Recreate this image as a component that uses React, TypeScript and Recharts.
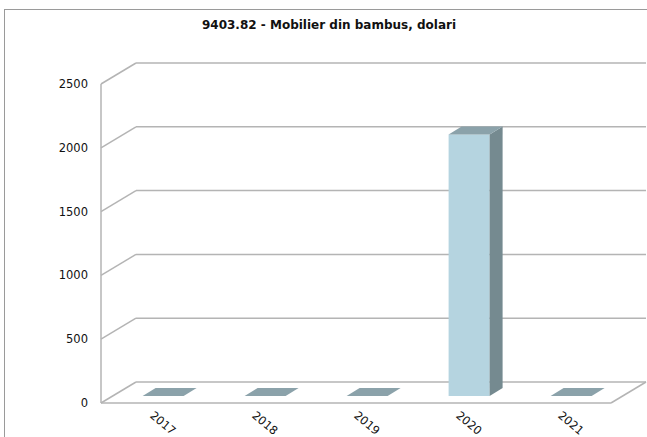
import {BarChart, Bar, XAxis, YAxis, CartesianGrid} from "recharts";

const YEARS = ["2017", "2018", "2019", "2020", "2021"]
const VALUES = [0, 0, 0, 2050, 0]
const Y_TICKS = [0, 500, 1000, 1500, 2000, 2500]

const data = YEARS.map((year, i) => ({year, value: VALUES[i]}))

// depth of the 3d box (back wall offset) and of the bars
const DEPTH_X = 35
const DEPTH_Y = -21
const BAR_SHIFT_X = 11
const BAR_SHIFT_Y = -7
const BAR_DX = 13
const BAR_DY = -8

const GRID = "#b4b4b4"
const FONT = "'DejaVu Sans', Verdana, sans-serif"

const GridLine = (p: any) => {
    const {x1, y1, x2, y, height} = p
    const isFloor = Math.abs(y1 - (y + height)) < 1
    return (
        <g key={p.key}>
            <line x1={x1} y1={y1} x2={x1 + DEPTH_X} y2={y1 + DEPTH_Y} stroke={GRID} strokeWidth={1.5}/>
            <line x1={x1 + DEPTH_X} y1={y1 + DEPTH_Y} x2={x2 + DEPTH_X} y2={y1 + DEPTH_Y} stroke={GRID} strokeWidth={1.5}/>
            {isFloor && (
                <line x1={x2} y1={y1} x2={x2 + DEPTH_X} y2={y1 + DEPTH_Y} stroke={GRID} strokeWidth={1.5}/>
            )}
        </g>
    )
}

const Bar3D = (p: any) => {
    const x = p.x + BAR_SHIFT_X
    const y = p.y + BAR_SHIFT_Y
    const w = p.width
    const h = p.height
    const top = `${x},${y} ${x + BAR_DX},${y + BAR_DY} ${x + w + BAR_DX},${y + BAR_DY} ${x + w},${y}`
    const side = `${x + w},${y} ${x + w + BAR_DX},${y + BAR_DY} ${x + w + BAR_DX},${y + h + BAR_DY} ${x + w},${y + h}`
    return (
        <g>
            {h > 0 && <rect x={x} y={y} width={w} height={h} fill="#b5d4e0"/>}
            {h > 0 && <polygon points={side} fill="#758a90"/>}
            <polygon points={top} fill="#8ba2aa"/>
        </g>
    )
}

const YearTick = (p: any) => {
    const cx = p.x + BAR_SHIFT_X
    const cy = p.y + 12
    return (
        <text x={cx} y={cy} textAnchor="middle" dominantBaseline="central"
              transform={`rotate(40, ${cx}, ${cy})`}
              fontFamily={FONT} fontSize={11.5} fill="#111">
            {p.payload.value}
        </text>
    )
}

const App = () => {
    return (
        <div style={{position: "absolute", left: 0, top: 0, width: 647, height: 437, overflow: "hidden", background: "#fff"}}>
            <div style={{
                position: "absolute", left: 4, top: 9, width: 700, height: 500,
                borderLeft: "1px solid #9a9a9a", borderTop: "1px solid #9a9a9a"
            }}/>
            <div style={{
                position: "absolute", left: 0, top: 18, width: 658, textAlign: "center",
                fontFamily: FONT, fontSize: 12, fontWeight: "bold", color: "#111"
            }}>
                9403.82 - Mobilier din bambus, dolari
            </div>
            <div style={{position: "absolute", left: 0, top: 0}}>
                <BarChart width={647} height={437} data={data} barCategoryGap="30%"
                          margin={{top: 84, right: 36, left: 0, bottom: 0}}>
                    <CartesianGrid vertical={false} horizontal={GridLine}/>
                    <XAxis dataKey="year" height={34} tickLine={false} tick={YearTick}
                           axisLine={{stroke: GRID, strokeWidth: 1.5}}/>
                    <YAxis width={101} domain={[0, 2500]} ticks={Y_TICKS} tickLine={false}
                           tickSize={0} tickMargin={13}
                           axisLine={{stroke: GRID, strokeWidth: 1.5}}
                           tick={{fontFamily: FONT, fontSize: 11.5, fill: "#111"}}/>
                    <Bar dataKey="value" shape={Bar3D} isAnimationActive={false}/>
                </BarChart>
            </div>
        </div>
    )
}

export default App
